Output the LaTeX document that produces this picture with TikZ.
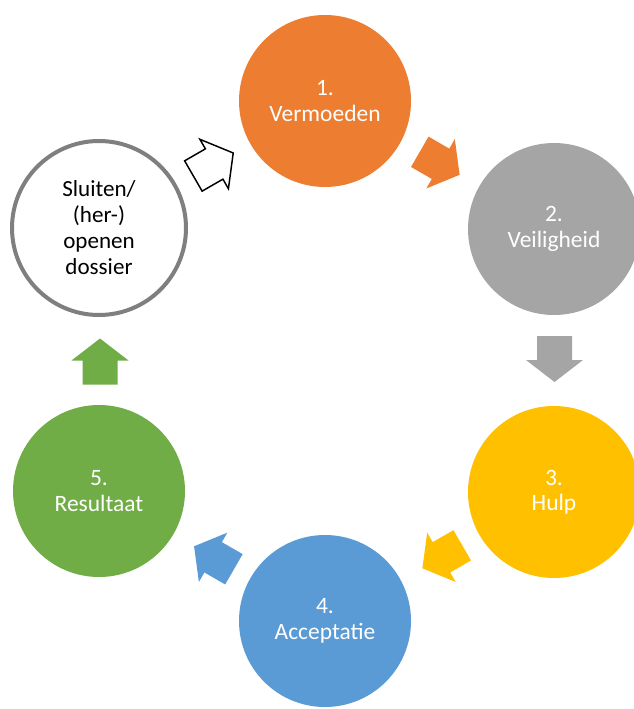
\documentclass[tikz,border=0pt]{standalone}
\usepackage{fontspec}
\setmainfont{Carlito}
\definecolor{corange}{HTML}{ED7D31}
\definecolor{cgray}{HTML}{A5A5A5}
\definecolor{cyellow}{HTML}{FFC000}
\definecolor{cblue}{HTML}{5B9BD5}
\definecolor{cgreen}{HTML}{70AD47}
\definecolor{cring}{HTML}{7F7F7F}
\newcommand\blockarrow[3]{%
  \begin{scope}[shift={(#1)},rotate=#2]
    \path[#3] (-23,-17.5) -- (1,-17.5) -- (1,-28.5) -- (23,0) -- (1,28.5) -- (1,17.5) -- (-23,17.5) -- cycle;
  \end{scope}}
\begin{document}
\begin{tikzpicture}[x=0.75pt,y=-0.75pt,
  stage/.style={circle, inner sep=0pt, outer sep=0pt, minimum size=129pt, align=center,
    text=white, font=\fontsize{17.6}{19}\selectfont},
  ring/.style={circle, inner sep=0pt, minimum size=130.5pt, align=center, draw=cring,
    line width=3pt, fill=white, text=black, font=\fontsize{17.3}{19.5}\selectfont}]
\useasboundingbox (0,0) rectangle (634,709);
\begin{scope}
\clip (0,0) rectangle (634,709);
\fill[white] (0,0) rectangle (634,709);
\node[stage, fill=corange] (c1) at (325,101) {1.\\Vermoeden};
\node[stage, fill=cgray]   (c2) at (554,229) {2.\\Veiligheid};
\node[stage, fill=cyellow] (c3) at (554,492) {3.\\Hulp};
\node[stage, fill=cblue]   (c4) at (325,621) {4.\\Acceptatie};
\node[stage, fill=cgreen]  (c5) at (99,491) {5.\\Resultaat};
\node[ring] (c6) at (99,228) {Sluiten/\\(her-)\\openen\\dossier};
\blockarrow{439.7,163.3}{-30}{fill=corange}
\blockarrow{554.5,359}{-90}{fill=cgray}
\blockarrow{442.3,556.8}{-150}{fill=cyellow}
\blockarrow{214,557.8}{150}{fill=cblue}
\blockarrow{100,361.5}{90}{fill=cgreen}
\blockarrow{213.3,164.5}{30}{fill=white, draw=black, line width=1.1pt, line join=miter}
\end{scope}
\end{tikzpicture}
\end{document}
